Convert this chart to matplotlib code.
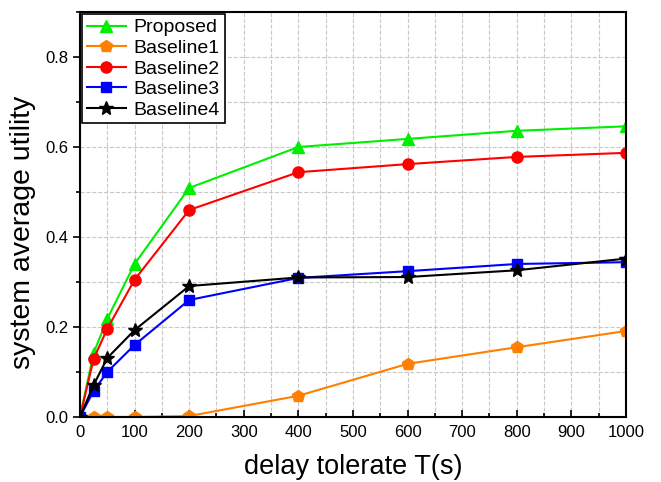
import matplotlib
matplotlib.use('Agg')
import matplotlib.pyplot as plt
from matplotlib.ticker import MultipleLocator

plt.rcParams['font.family'] = ['Liberation Sans', 'DejaVu Sans']

T = [0, 25, 50, 100, 200, 400, 600, 800, 1000]
proposed = [0.0, 0.142, 0.218, 0.340, 0.509, 0.600, 0.618, 0.636, 0.646]
baseline1 = [0.0, 0.0, 0.0, 0.0, 0.002, 0.047, 0.118, 0.155, 0.191]
baseline2 = [0.0, 0.129, 0.196, 0.305, 0.460, 0.544, 0.562, 0.578, 0.587]
baseline3 = [0.0, 0.058, 0.100, 0.160, 0.260, 0.309, 0.324, 0.340, 0.344]
baseline4 = [0.0, 0.071, 0.131, 0.193, 0.291, 0.310, 0.311, 0.326, 0.352]

fig = plt.figure(figsize=(6.61, 4.82), dpi=100)
ax = fig.add_axes([0.121, 0.135, 0.826, 0.840])

ax.plot(T, proposed, '-^', color='#00ee00', ms=8, lw=1.5, label='Proposed')
ax.plot(T, baseline1, '-p', color='#ff8000', ms=9, lw=1.5, label='Baseline1')
ax.plot(T, baseline2, '-o', color='#ff0000', ms=8, lw=1.5, label='Baseline2')
ax.plot(T, baseline3, '-s', color='#0000ff', ms=7, lw=1.5, label='Baseline3')
ax.plot(T, baseline4, '-*', color='black', ms=10, lw=1.5, label='Baseline4')

ax.set_xlim(0, 1000)
ax.set_ylim(0, 0.9)
ax.xaxis.set_major_locator(MultipleLocator(100))
ax.xaxis.set_minor_locator(MultipleLocator(50))
ax.yaxis.set_minor_locator(MultipleLocator(0.1))
ax.set_yticks([0, 0.2, 0.4, 0.6, 0.8])
ax.set_yticklabels(['0.0', '0.2', '0.4', '0.6', '0.8'])
ax.grid(True, which='both', ls='--', color='#c8c8c8', lw=0.8)
ax.tick_params(axis='x', which='both', direction='in', labelsize=12, pad=6)
ax.tick_params(axis='y', which='both', direction='out', labelsize=12)
ax.tick_params(which='major', length=5, width=1.2)
ax.tick_params(which='minor', length=3, width=1.2)
for s in ax.spines.values():
    s.set_linewidth(1.5)

ax.set_xlabel('delay tolerate T(s)', fontsize=19.5, labelpad=10)
ax.set_ylabel('system average utility', fontsize=20.5, labelpad=6)
ax.yaxis.set_label_coords(-0.08, 0.457)

leg = ax.legend(loc='upper left', fontsize=14, frameon=True, fancybox=False,
                edgecolor='black', borderaxespad=0.1, handlelength=2.0,
                labelspacing=0.15, borderpad=0.25, handletextpad=0.4)
leg.get_frame().set_linewidth(1.2)
leg.get_frame().set_alpha(1)

fig.savefig('out.png', dpi=100)
